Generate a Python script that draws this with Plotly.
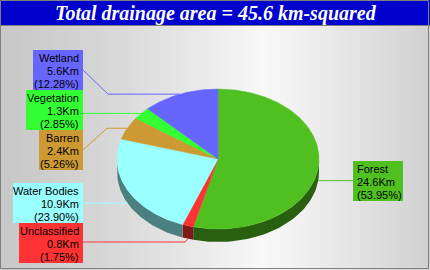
import numpy as np
import plotly.graph_objects as go

# ---- data ----
categories = ["Forest", "Unclassified", "Water Bodies", "Barren", "Vegetation", "Wetland"]
values = [24.6, 0.8, 10.9, 2.4, 1.3, 5.6]
top_colors = ["#50C020", "#FF3333", "#99FFFF", "#CC9933", "#33FF33", "#6666FF"]
side_colors = ["#286010", "#801A1A", "#4C8080", "#664C1A", "#1A801A", "#333380"]
title_text = "Total drainage area = 45.6 km-squared"

# ---- layout constants (pixels) ----
W, H = 430, 270
CX, CY, RX, RY, DEPTH = 218, 159, 101, 70, 13

# label boxes: (x0, x1, y0, y1, align)
boxes = {
    "Forest": (353, 403, 161, 201, "left"),
    "Unclassified": (19, 83, 223, 263, "right"),
    "Water Bodies": (13, 83, 183, 223, "right"),
    "Barren": (39, 83, 130, 170, "right"),
    "Vegetation": (26, 83, 90, 130, "right"),
    "Wetland": (33, 83, 50, 90, "right"),
}
# connector knees (x, y) between anchor and box edge, None for straight
knees = {
    "Forest": None,
    "Unclassified": (185, 242),
    "Water Bodies": None,
    "Barren": (107, None),
    "Vegetation": None,
    "Wetland": (108, None),
}
label_line_y = {"Forest": None, "Unclassified": 242, "Water Bodies": None,
                "Barren": 150, "Vegetation": None, "Wetland": 70}

total = sum(values)
fracs = [v / total for v in values]


def pt(theta_deg, dy=0.0):
    t = np.radians(theta_deg)
    return CX + RX * np.sin(t), CY - RY * np.cos(t) + dy


fig = go.Figure()

# background gradient
shapes = []
step = 5
for x0 in range(0, W, step):
    xm = x0 + step / 2
    peak = 262
    if xm <= peak:
        v = 200 + (248 - 200) * (xm / peak) ** 1.3
    else:
        v = 248 - (248 - 208) * ((xm - peak) / (W - peak)) ** 1.1
    c = int(round(v))
    shapes.append(dict(type="rect", xref="x", yref="y", x0=x0, x1=x0 + step, y0=25, y1=H,
                       fillcolor=f"rgb({c},{c},{c})", line=dict(width=0), layer="below"))
# title bar
shapes.append(dict(type="rect", xref="x", yref="y", x0=0, x1=W, y0=0, y1=25.5,
                   fillcolor="#0000CC", line=dict(width=0), layer="below"))
shapes.append(dict(type="line", xref="x", yref="y", x0=0, x1=W, y0=25.5, y1=25.5,
                   line=dict(color="#808080", width=1), layer="below"))
# outer border
shapes.append(dict(type="rect", xref="x", yref="y", x0=0.5, x1=W - 1.5, y0=0.5, y1=H - 1.5,
                   fillcolor="rgba(0,0,0,0)", line=dict(color="#7F7F7F", width=1), layer="above"))

# compute angles
starts, ends = [], []
acc = 0.0
for f in fracs:
    starts.append(acc * 360)
    acc += f
    ends.append(acc * 360)

# side walls (visible lower half: 90..270 deg)
for i, name in enumerate(categories):
    a = max(starts[i], 90)
    b = min(ends[i], 270)
    if b <= a:
        continue
    th = np.linspace(a, b, 60)
    xt, yt = pt(th)
    xb, yb = pt(th[::-1], DEPTH)
    xs = np.concatenate([xt, xb, xt[:1]])
    ys = np.concatenate([yt, yb, yt[:1]])
    fig.add_trace(go.Scatter(x=xs, y=ys, mode="lines", fill="toself",
                             fillcolor=side_colors[i], line=dict(width=0, color=side_colors[i]),
                             hoverinfo="skip", showlegend=False))

# top faces
for i, name in enumerate(categories):
    th = np.linspace(starts[i], ends[i], max(8, int((ends[i] - starts[i]) * 1.5)))
    xt, yt = pt(th)
    xs = np.concatenate([[CX], xt, [CX]])
    ys = np.concatenate([[CY], yt, [CY]])
    fig.add_trace(go.Scatter(x=xs, y=ys, mode="lines", fill="toself",
                             fillcolor=top_colors[i], line=dict(width=0.5, color=top_colors[i]),
                             hoverinfo="skip", showlegend=False))

# connectors, boxes and labels
annotations = []
for i, name in enumerate(categories):
    mid = (starts[i] + ends[i]) / 2
    lower = 90 < mid < 270
    ax, ay = pt(mid, DEPTH if lower else 0)
    bx0, bx1, by0, by1, align = boxes[name]
    edge_x = bx0 if align == "left" else bx1
    ly = label_line_y[name]
    if ly is None:
        ly = ay
    knee = knees[name]
    if knee is None:
        lx, lyy = [ax, edge_x], [ay, ay]
    elif knee[1] is None:
        lx, lyy = [ax, knee[0], edge_x], [ay, ay, ly]
    else:
        lx, lyy = [ax, knee[0], edge_x], [ay, knee[1], knee[1]]
    fig.add_trace(go.Scatter(x=lx, y=lyy, mode="lines",
                             line=dict(color=top_colors[i], width=1),
                             hoverinfo="skip", showlegend=False))
    shapes.append(dict(type="rect", xref="x", yref="y", x0=bx0, x1=bx1, y0=by0, y1=by1,
                       fillcolor=top_colors[i], line=dict(width=0), layer="above"))
    lines = [name, f"{values[i]:.1f}Km", f"({fracs[i] * 100:.2f}%)"]
    for k, t in enumerate(lines):
        yk = by0 + 7.5 + 13 * k
        if align == "right":
            annotations.append(dict(x=bx1 - 2, y=yk, xref="x", yref="y", text=t,
                                    showarrow=False, xanchor="right", yanchor="middle",
                                    font=dict(family="Liberation Sans, Arial", size=11, color="black")))
        else:
            annotations.append(dict(x=bx0 + 2, y=yk, xref="x", yref="y", text=t,
                                    showarrow=False, xanchor="left", yanchor="middle",
                                    font=dict(family="Liberation Sans, Arial", size=11, color="black")))

annotations.append(dict(x=W / 2 + 1, y=13, xref="x", yref="y", text=f"<b><i>{title_text}</i></b>",
                        showarrow=False, xanchor="center", yanchor="middle",
                        font=dict(family="Liberation Serif, Times New Roman", size=20, color="white")))

fig.update_layout(
    width=W, height=H, autosize=False,
    margin=dict(l=0, r=0, t=0, b=0, pad=0),
    paper_bgcolor="#D8D8D8", plot_bgcolor="rgba(0,0,0,0)",
    xaxis=dict(range=[0, W], visible=False, fixedrange=True),
    yaxis=dict(range=[H, 0], visible=False, fixedrange=True),
    shapes=shapes, annotations=annotations,
    showlegend=False, hovermode=False,
)

fig.write_html("out.html", config={"displayModeBar": False})
